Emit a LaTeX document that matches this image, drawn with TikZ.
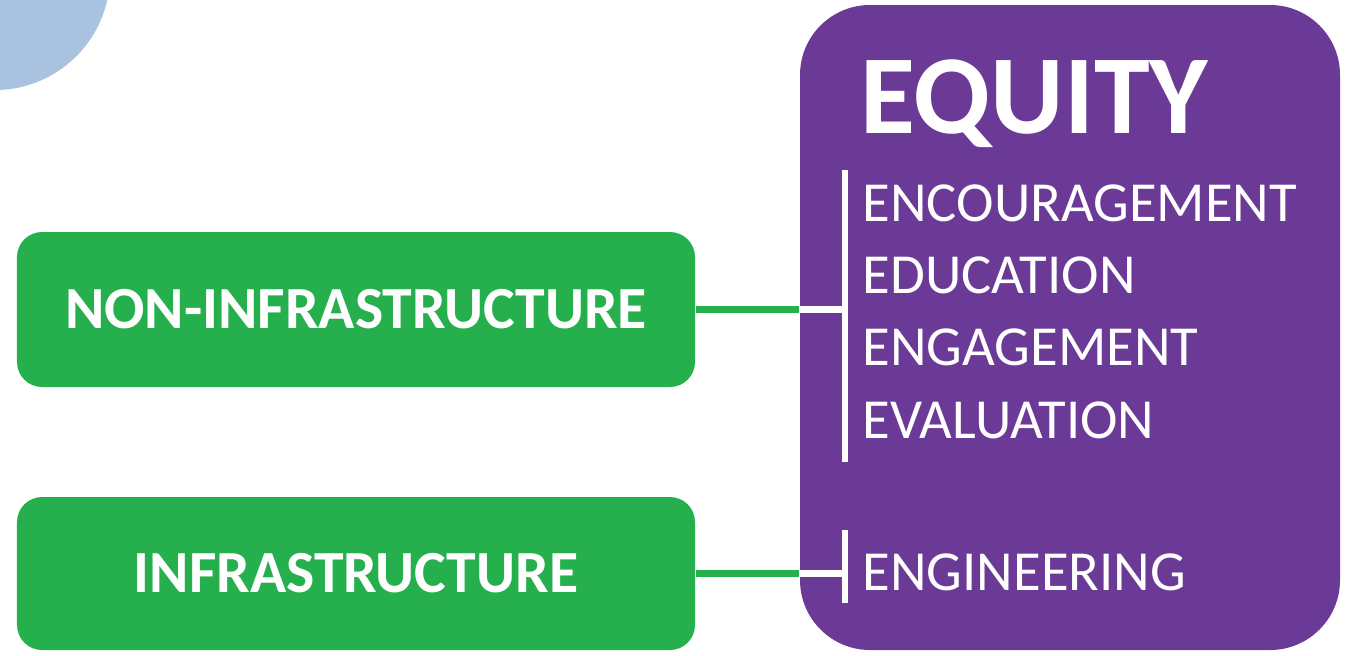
\documentclass[tikz,border=0pt]{standalone}
\usepackage{fontspec}
\setmainfont{Carlito}
\usepackage{tikz}
\usepackage{xcolor}
\usetikzlibrary{shapes, positioning}

\definecolor{eqpurple}{RGB}{107,57,150}
\definecolor{boxgreen}{RGB}{38,176,77}
\definecolor{paleblue}{RGB}{169,194,223}

\begin{document}
\begin{tikzpicture}[
        greenbox/.style={rectangle, rounded corners=0.25cm, fill=boxgreen, text=white,
            minimum width=6.78cm, font=\bfseries\fontsize{17}{20}\selectfont},
        item/.style={anchor=base west, inner sep=0, text=white, font=\fontsize{16.1}{20}\selectfont},
        greenlink/.style={boxgreen, line width=0.07cm},
        whitelink/.style={white, line width=0.07cm},
        bar/.style={white, line width=0.055cm}
    ]
        \useasboundingbox (0, 0) rectangle (13.46, -6.55);
        \clip (0, 0) rectangle (13.46, -6.55);
        \fill[paleblue] (-0.05, 0.25) circle (1.15);

        \node[rectangle, rounded corners=0.7cm, fill=eqpurple, minimum width=5.4cm, minimum height=6.45cm] (equity) at (10.70, -3.275) {};
        \node[greenbox, minimum height=1.55cm] (noninf) at (3.56, -3.095) {NON-INFRASTRUCTURE};
        \node[greenbox, minimum height=1.53cm] (inf) at (3.56, -5.735) {INFRASTRUCTURE};

        \node[anchor=base west, inner sep=0, text=white, font=\bfseries\fontsize{32}{36}\selectfont] (title) at (8.60, -1.33) {EQUITY};
        \node[item] (enc) at (8.62, -2.21) {ENCOURAGEMENT};
        \node[item] (edu) at (8.62, -2.93) {EDUCATION};
        \node[item] (eng) at (8.62, -3.65) {ENGAGEMENT};
        \node[item] (eva) at (8.62, -4.38) {EVALUATION};
        \node[item] (engin) at (8.62, -5.90) {ENGINEERING};

        \coordinate (j1) at (noninf.east -| equity.west);
        \coordinate (b1) at (8.45, -3.095);
        \coordinate (b1top) at (8.45, -1.70);
        \coordinate (b1bot) at (8.45, -4.62);
        \coordinate (j2) at (inf.east -| equity.west);
        \coordinate (b2) at (8.45, -5.735);
        \coordinate (b2top) at (8.45, -5.30);
        \coordinate (b2bot) at (8.45, -6.03);

        \draw[greenlink] (noninf.east) -- (j1);
        \draw[greenlink] (inf.east) -- (j2);
        \draw[whitelink] (j1) -- (b1)
            (j2) -- (b2);
        \draw[bar] (b1top) -- (b1bot)
            (b2top) -- (b2bot);
    \end{tikzpicture}
\end{document}
